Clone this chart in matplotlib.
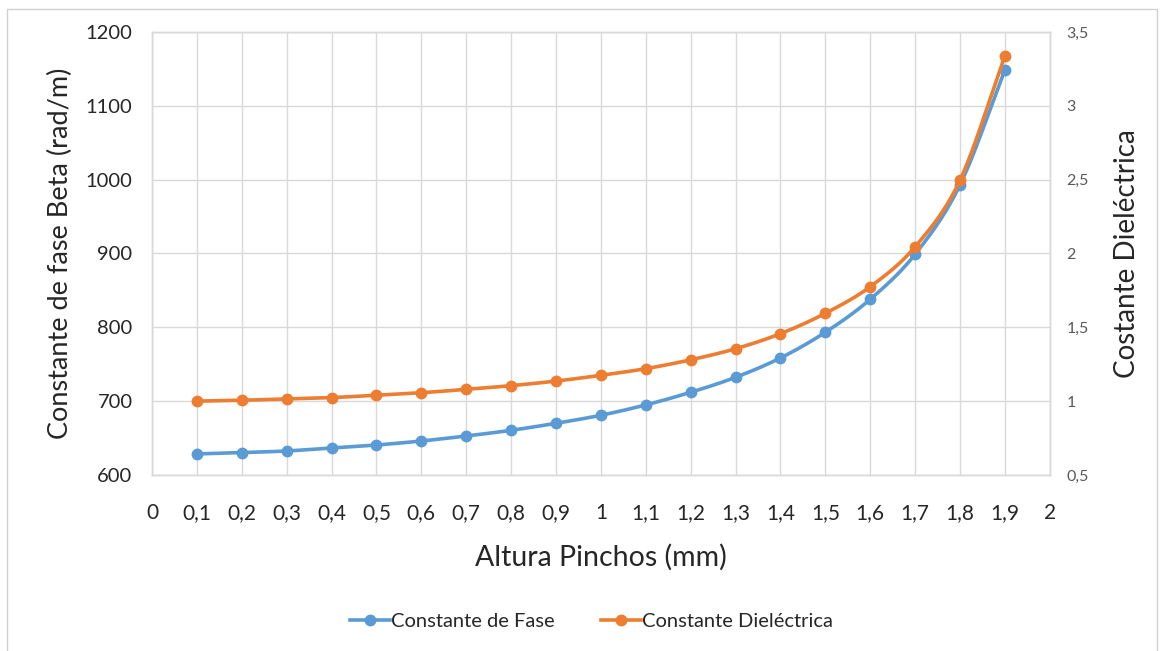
import numpy as np
import matplotlib.pyplot as plt
from matplotlib.lines import Line2D
from matplotlib.patches import Rectangle
from matplotlib.ticker import FuncFormatter, MultipleLocator

plt.rcParams['font.family'] = ['Lato', 'DejaVu Sans']

altura = [0.1, 0.2, 0.3, 0.4, 0.5, 0.6, 0.7, 0.8, 0.9, 1.0,
          1.1, 1.2, 1.3, 1.4, 1.5, 1.6, 1.7, 1.8, 1.9]
beta = [628.5, 630.3, 632.5, 636.6, 640.6, 646, 652.8, 660.5, 670, 680.9,
        694.9, 712, 732.3, 758.5, 793.3, 838, 899, 993, 1148.8]
dielectrica = [1.0, 1.006, 1.015, 1.024, 1.04, 1.057, 1.08, 1.105, 1.136, 1.175,
               1.22, 1.28, 1.355, 1.457, 1.595, 1.775, 2.046, 2.497, 3.34]

azul = '#5B9BD5'
naranja = '#ED7D31'
rejilla = '#D9D9D9'


def suavizar(x, y, n=20):
    # curva Catmull-Rom entre los puntos, como la línea suavizada de Excel
    x = np.asarray(x, float)
    y = np.asarray(y, float)
    px = np.concatenate([[2 * x[0] - x[1]], x, [2 * x[-1] - x[-2]]])
    py = np.concatenate([[2 * y[0] - y[1]], y, [2 * y[-1] - y[-2]]])
    xs, ys = [], []
    t = np.linspace(0, 1, n, endpoint=False)
    for i in range(1, len(px) - 2):
        for p, out in ((px, xs), (py, ys)):
            p0, p1, p2, p3 = p[i - 1], p[i], p[i + 1], p[i + 2]
            out.extend(0.5 * ((2 * p1) + (-p0 + p2) * t
                              + (2 * p0 - 5 * p1 + 4 * p2 - p3) * t ** 2
                              + (-p0 + 3 * p1 - 3 * p2 + p3) * t ** 3))
    xs.append(x[-1])
    ys.append(y[-1])
    return np.array(xs), np.array(ys)


def coma(v, pos):
    s = ('%.1f' % v).rstrip('0').rstrip('.')
    return s.replace('.', ',')


fig = plt.figure(figsize=(11.6, 6.51), dpi=100)
# marco gris del área del gráfico
fig.patches.append(Rectangle((7 / 1160, -0.01), 1150 / 1160, 1 - 9 / 651 + 0.01,
                             transform=fig.transFigure, fill=False,
                             edgecolor='#D0D0D0', linewidth=1))
ax = fig.add_axes([0.131, 0.2704, 0.774, 0.6804])
ax2 = ax.twinx()

sx, sy = suavizar(altura, beta)
ax.plot(sx, sy, color=azul, linewidth=2.6, solid_capstyle='round', zorder=3)
ax.plot(altura, beta, 'o', color=azul, markersize=7.5, zorder=4)

sx, sy = suavizar(altura, dielectrica)
ax2.plot(sx, sy, color=naranja, linewidth=2.6, solid_capstyle='round', zorder=3)
ax2.plot(altura, dielectrica, 'o', color=naranja, markersize=7.5, zorder=4)

ax.set_xlim(0, 2)
ax.set_ylim(600, 1200)
ax2.set_ylim(0.5, 3.5)
ax.xaxis.set_major_locator(MultipleLocator(0.1))
ax.yaxis.set_major_locator(MultipleLocator(100))
ax2.yaxis.set_major_locator(MultipleLocator(0.5))
ax.xaxis.set_major_formatter(FuncFormatter(coma))
ax2.yaxis.set_major_formatter(FuncFormatter(coma))

ax.grid(True, color=rejilla, linewidth=1)
ax.set_axisbelow(True)
for a in (ax, ax2):
    for sp in a.spines.values():
        sp.set_color(rejilla)
        sp.set_linewidth(1)
    a.tick_params(length=0)

ax.tick_params(axis='x', labelsize=15, colors='#262626', pad=20)
ax.tick_params(axis='y', labelsize=14.5, colors='#262626', pad=14)
ax2.tick_params(axis='y', labelsize=11.5, colors='#595959', pad=12)

ax.set_xlabel('Altura Pinchos (mm)', fontsize=20.5, color='#262626', labelpad=15)
ax.set_ylabel('Constante de fase Beta (rad/m)', fontsize=19.5, color='#262626', labelpad=9)
ax2.set_ylabel('Costante Dieléctrica', fontsize=20, color='#262626', labelpad=18)

handles = [Line2D([], [], color=azul, linewidth=2.6, marker='o', markersize=7.5),
           Line2D([], [], color=naranja, linewidth=2.6, marker='o', markersize=7.5)]
fig.legend(handles, ['Constante de Fase', 'Constante Dieléctrica'],
           loc='center', bbox_to_anchor=(0.51, 0.046), ncol=2, frameon=False,
           fontsize=14.5, handlelength=2.0, handletextpad=0.05, columnspacing=2.3,
           labelcolor='#262626')

fig.savefig('out.png', dpi=100)
